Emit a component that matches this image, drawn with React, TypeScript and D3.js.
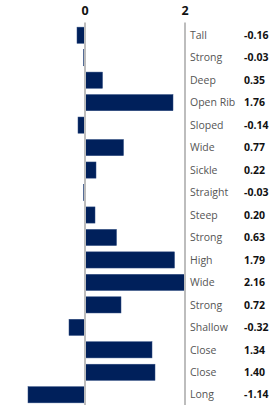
import React from 'react';
import * as d3 from 'd3';

// --- Data ---
const labels = ['Tall', 'Strong', 'Deep', 'Open Rib', 'Sloped', 'Wide', 'Sickle', 'Straight', 'Steep', 'Strong', 'High', 'Wide', 'Strong', 'Shallow', 'Close', 'Close', 'Long'];
const values = [-0.16, -0.03, 0.35, 1.76, -0.14, 0.77, 0.22, -0.03, 0.2, 0.63, 1.79, 2.16, 0.72, -0.32, 1.34, 1.4, -1.14];
const ticks = [0, 2];

const W = 279;
const H = 405;
const FONT = '"Open Sans", Lato, sans-serif';

export default function App() {
    const x = d3.scaleLinear().domain([-1.7, 2]).range([0, 185]).clamp(true);
    const y = d3.scaleBand<number>()
        .domain(d3.range(labels.length))
        .range([24, H + 1])
        .paddingInner(0.28)
        .paddingOuter(0.14);

    return (
        <div style={{ position: 'absolute', left: 0, top: 0 }}>
            <svg width={W} height={H} style={{ display: 'block', fontFamily: FONT }}>
                {ticks.map(t => (
                    <text key={t} x={x(t)} y={15} textAnchor="middle" fontSize={12.5} fontWeight={700} fill="#111">{t}</text>
                ))}
                {values.map((v, i) => (
                    <rect
                        key={i}
                        x={Math.min(x(0), x(v))}
                        y={y(i)}
                        width={Math.max(1, Math.abs(x(v) - x(0)))}
                        height={y.bandwidth()}
                        fill="#00205b"
                        stroke="#2d4a80"
                        strokeWidth={0.5}
                    />
                ))}
                {ticks.map(t => (
                    <line key={'l' + t} x1={x(t)} x2={x(t)} y1={22.5} y2={H} stroke="#bdbdbd" strokeWidth={2} />
                ))}
                {labels.map((l, i) => (
                    <g key={i} transform={`translate(0,${(y(i) ?? 0) + y.bandwidth() / 2})`}>
                        <text x={190} dy="0.35em" fontSize={10.5} fill="#555">{l}</text>
                        <text x={244} dy="0.35em" fontSize={10.5} fontWeight={700} fill="#111">{v2s(values[i])}</text>
                    </g>
                ))}
            </svg>
        </div>
    );
}

function v2s(v: number) {
    return v.toFixed(2);
}
